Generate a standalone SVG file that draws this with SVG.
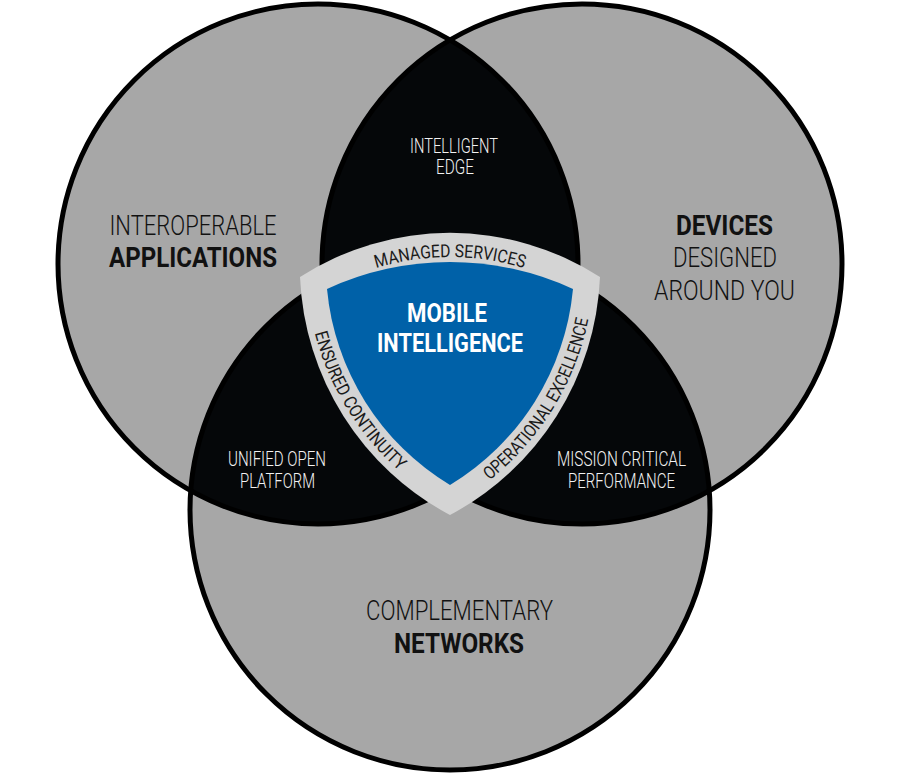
<svg xmlns="http://www.w3.org/2000/svg" xmlns:xlink="http://www.w3.org/1999/xlink" width="900" height="780" viewBox="0 0 900 780">
  <style>
    .circ { fill: #a7a7a7; }
    .ring { fill: none; stroke: #000; stroke-width: 5; }
    .lens { fill: #050709; }
    .big { font-family: Roboto, "Liberation Sans", Arial, sans-serif; font-size: 28px; fill: #111; text-anchor: middle; }
    .lt { font-weight: 300; }
    .bd { font-weight: 700; }
    .small { font-family: Roboto, "Liberation Sans", Arial, sans-serif; font-size: 20px; font-weight: 300; fill: #f2f2f2; text-anchor: middle; }
    .band { font-family: Roboto, "Liberation Sans", Arial, sans-serif; font-size: 18px; font-weight: 400; fill: #1a1a1a; text-anchor: middle; }
    .core { font-family: Roboto, "Liberation Sans", Arial, sans-serif; font-size: 25px; font-weight: 700; fill: #fff; text-anchor: middle; }
  </style>
  <defs>
    <clipPath id="clipL"><circle cx="318" cy="264" r="260"/></clipPath>
    <clipPath id="clipR"><circle cx="582" cy="264" r="260"/></clipPath>
    <clipPath id="clipB"><circle cx="450" cy="510" r="260"/></clipPath>
    <path id="arcTop" d="M 242.8 364.9 A 253 253 0 0 1 657.2 364.9"/>
    <path id="arcLeft" d="M 310.2 216.1 A 276 276 0 0 0 487.6 523.4"/>
    <path id="arcRight" d="M 412.4 523.4 A 276 276 0 0 0 589.8 216.1"/>
  </defs>
  <rect width="900" height="780" fill="#ffffff"/>

  <g id="circle-applications">
    <circle class="circ" cx="318" cy="264" r="260"/>
  </g>
  <g id="circle-devices">
    <circle class="circ" cx="582" cy="264" r="260"/>
  </g>
  <g id="circle-networks">
    <circle class="circ" cx="450" cy="510" r="260"/>
  </g>

  <g id="lens-intelligent-edge">
    <circle class="lens" cx="318" cy="264" r="260" clip-path="url(#clipR)"/>
  </g>
  <g id="lens-unified-open-platform">
    <circle class="lens" cx="318" cy="264" r="260" clip-path="url(#clipB)"/>
  </g>
  <g id="lens-mission-critical">
    <circle class="lens" cx="582" cy="264" r="260" clip-path="url(#clipB)"/>
  </g>

  <g id="outlines">
    <circle class="ring" cx="318" cy="264" r="260"/>
    <circle class="ring" cx="582" cy="264" r="260"/>
    <circle class="ring" cx="450" cy="510" r="260"/>
  </g>

  <g id="labels-circles">
    <text class="big lt" x="193" y="235" textLength="167" lengthAdjust="spacingAndGlyphs">INTEROPERABLE</text>
    <text class="big bd" x="193" y="267" textLength="168" lengthAdjust="spacingAndGlyphs">APPLICATIONS</text>
    <text class="big bd" x="724.5" y="235" textLength="97" lengthAdjust="spacingAndGlyphs">DEVICES</text>
    <text class="big lt" x="725" y="267" textLength="104" lengthAdjust="spacingAndGlyphs">DESIGNED</text>
    <text class="big lt" x="724.5" y="300" textLength="141" lengthAdjust="spacingAndGlyphs">AROUND YOU</text>
    <text class="big lt" x="459.5" y="620" textLength="187" lengthAdjust="spacingAndGlyphs">COMPLEMENTARY</text>
    <text class="big bd" x="459" y="653" textLength="130" lengthAdjust="spacingAndGlyphs">NETWORKS</text>
  </g>

  <g id="labels-lenses">
    <text class="small" x="454" y="153" textLength="88" lengthAdjust="spacingAndGlyphs">INTELLIGENT</text>
    <text class="small" x="455" y="174" textLength="38" lengthAdjust="spacingAndGlyphs">EDGE</text>
    <text class="small" x="277" y="466" textLength="98" lengthAdjust="spacingAndGlyphs">UNIFIED OPEN</text>
    <text class="small" x="277.5" y="488" textLength="75" lengthAdjust="spacingAndGlyphs">PLATFORM</text>
    <text class="small" x="621.5" y="466" textLength="129" lengthAdjust="spacingAndGlyphs">MISSION CRITICAL</text>
    <text class="small" x="621.5" y="488" textLength="107" lengthAdjust="spacingAndGlyphs">PERFORMANCE</text>
  </g>

  <g id="shield">
    <path d="M 300 277 A 277 277 0 0 1 600 277 A 283 283 0 0 1 450 515 A 283 283 0 0 1 300 277 Z" fill="#d4d4d4"/>
    <path d="M 327 289 A 294 294 0 0 1 573 289 A 257 257 0 0 1 450 485 A 257 257 0 0 1 327 289 Z" fill="#0061a8"/>
    <text class="band"><textPath xlink:href="#arcTop" href="#arcTop" startOffset="50%" textLength="150" lengthAdjust="spacingAndGlyphs">MANAGED SERVICES</textPath></text>
    <text class="band"><textPath xlink:href="#arcLeft" href="#arcLeft" startOffset="200" textLength="164" lengthAdjust="spacingAndGlyphs">ENSURED CONTINUITY</textPath></text>
    <text class="band"><textPath xlink:href="#arcRight" href="#arcRight" startOffset="185" textLength="193" lengthAdjust="spacingAndGlyphs">OPERATIONAL EXCELLENCE</textPath></text>
    <text class="core" x="447" y="322" textLength="80" lengthAdjust="spacingAndGlyphs">MOBILE</text>
    <text class="core" x="450" y="352" textLength="146" lengthAdjust="spacingAndGlyphs">INTELLIGENCE</text>
  </g>

  <g id="connectors"/>
</svg>
